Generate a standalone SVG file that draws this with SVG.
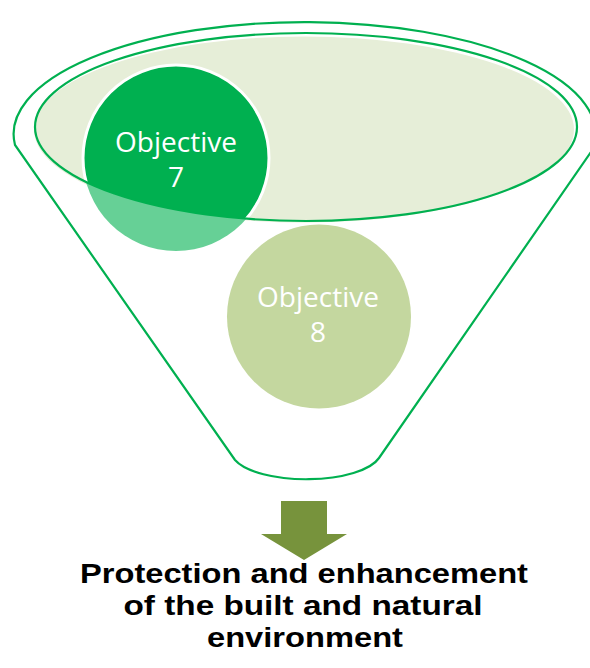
<svg xmlns="http://www.w3.org/2000/svg" width="590" height="668" viewBox="0 0 590 668">
  <style>
    .line { fill: none; stroke: #00B050; stroke-width: 2.2; }
    .obj { font-family: "Open Sans", "Noto Sans", sans-serif; font-size: 28px; fill: #FFFFFF; text-anchor: middle; }
    .title { font-family: "Liberation Sans", Arial, sans-serif; font-size: 28.5px; font-weight: bold; fill: #000000; text-anchor: middle; }
  </style>
  <defs>
    <clipPath id="innerClip">
      <ellipse cx="306" cy="127" rx="271" ry="94"/>
    </clipPath>
  </defs>
  <rect width="590" height="668" fill="#FFFFFF"/>
  <g id="funnel">
    <path class="line" d="M15,145 A291,112 0 1 1 593,149 L379,458 A75,28 0 0 1 235,460 Z"/>
    <ellipse id="funnel-top-fill" cx="304" cy="129.5" rx="270" ry="93" fill="#E6EED8"/>
  </g>
  <g id="objective-7">
    <circle cx="176" cy="158" r="93" fill="#66D096"/>
    <circle cx="176" cy="158" r="93" fill="#00B050" clip-path="url(#innerClip)"/>
    <circle cx="176" cy="158" r="93" fill="none" stroke="#FFFFFF" stroke-width="3" clip-path="url(#innerClip)"/>
    <text class="obj" x="176" y="152">Objective</text>
    <text class="obj" x="176" y="187">7</text>
  </g>
  <g id="funnel-top">
    <ellipse class="line" cx="306" cy="127" rx="271" ry="94"/>
  </g>
  <g id="objective-8">
    <circle cx="319" cy="316.5" r="92" fill="#C4D79F"/>
    <text class="obj" x="318" y="307">Objective</text>
    <text class="obj" x="318" y="342">8</text>
  </g>
  <g id="connectors">
    <path d="M281,501 L327,501 L327,534 L347,534 L304,560 L261,534 L281,534 Z" fill="#77933C"/>
  </g>
  <g id="result">
    <text class="title" x="304" y="583" textLength="448" lengthAdjust="spacingAndGlyphs">Protection and enhancement</text>
    <text class="title" x="303" y="615" textLength="359" lengthAdjust="spacingAndGlyphs">of the built and natural</text>
    <text class="title" x="305" y="647" textLength="196" lengthAdjust="spacingAndGlyphs">environment</text>
  </g>
</svg>
